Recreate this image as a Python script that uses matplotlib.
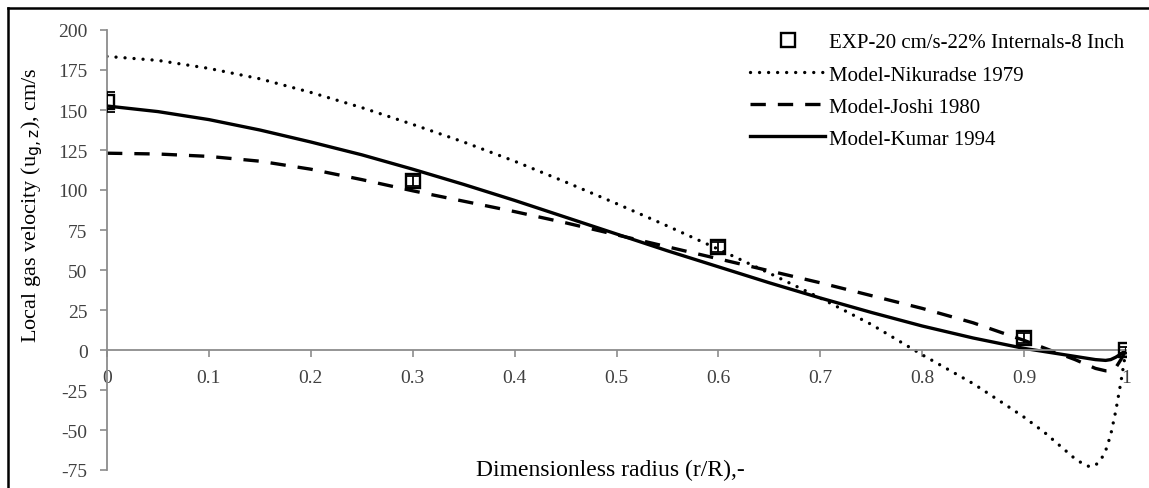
import numpy as np
import matplotlib
matplotlib.use('Agg')
from matplotlib import pyplot as plt
from matplotlib.lines import Line2D
from matplotlib.ticker import FuncFormatter, MultipleLocator

plt.rcParams['font.family'] = ['Liberation Serif', 'DejaVu Serif']
plt.rcParams['axes.unicode_minus'] = False

# experimental points
exp_r = [0.0, 0.3, 0.6, 0.9, 1.0]
exp_u = [155, 105.5, 64.5, 7.5, 0]
exp_err = [6, 3, 3, 3, 2]

# Nikuradse 1979 model
nik_r = [0, 0.05, 0.1, 0.15, 0.2, 0.25, 0.3, 0.35, 0.4, 0.45, 0.5, 0.55, 0.6, 0.65, 0.7,
         0.75, 0.8, 0.85, 0.88, 0.9, 0.92, 0.94, 0.95, 0.96, 0.965, 0.97, 0.975, 0.98,
         0.985, 0.99, 0.995, 1.0]
nik_u = [183.5, 181, 176, 169.5, 161, 151.5, 141, 130, 118, 105, 91.5, 77.5, 63, 48, 32.5,
         16, -3, -21, -33.5, -42, -51.5, -62.5, -68, -72, -73, -72, -69, -63,
         -53, -38, -20, 0]

# Joshi 1980 model
jos_r = [0, 0.05, 0.1, 0.15, 0.2, 0.25, 0.3, 0.35, 0.4, 0.45, 0.5, 0.55, 0.6, 0.65, 0.7,
         0.75, 0.8, 0.85, 0.9, 0.925, 0.95, 0.97, 0.98, 0.985, 0.99, 0.995, 1.0]
jos_u = [123, 122.5, 121, 118, 113, 106.5, 99.5, 93, 86.5, 79.5, 72, 64.5, 57, 49.5, 42,
         34, 26, 17, 6, 0, -6, -11.5, -13, -13, -11, -6, 0]

# Kumar 1994 model
kum_r = [0, 0.05, 0.1, 0.15, 0.2, 0.25, 0.3, 0.35, 0.4, 0.45, 0.5, 0.55, 0.6, 0.65, 0.7,
         0.75, 0.8, 0.85, 0.9, 0.925, 0.95, 0.97, 0.98, 0.985, 0.99, 0.995, 1.0]
kum_u = [152.5, 149, 144, 137.5, 130, 122, 113, 103.5, 93.5, 83, 72.5, 62, 52, 42, 32.5,
         23.5, 15, 7.5, 1, -1.5, -4, -6, -6.5, -6, -4.5, -2.5, 0]

fig = plt.figure(figsize=(11.49, 4.89), dpi=100)
ax = fig.add_axes([107/1149, 18/489, 1019/1149, 440/489])

ax.plot(nik_r, nik_u, color='black', lw=2.4, linestyle=(0, (0.01, 2.7)),
        dash_capstyle='round', label='Model-Nikuradse 1979', zorder=2)
ax.plot(jos_r, jos_u, color='black', lw=2.4, linestyle=(0, (4.6, 3.6)),
        label='Model-Joshi 1980', zorder=2)
ax.plot(kum_r, kum_u, color='black', lw=2.4, label='Model-Kumar 1994', zorder=2)
ax.errorbar(exp_r, exp_u, yerr=exp_err, fmt='none', ecolor='black', elinewidth=1.3,
            capsize=6, capthick=1.3, zorder=3)
ax.plot(exp_r, exp_u, 's', ms=10, mfc='none', mec='black', mew=1.7,
        label='EXP-20 cm/s-22% Internals-8 Inch', zorder=4)

ax.set_xlim(0, 1)
ax.set_ylim(-75, 200)
ax.spines['top'].set_visible(False)
ax.spines['right'].set_visible(False)
ax.spines['bottom'].set_position(('data', 0))
for s in ['left', 'bottom']:
    ax.spines[s].set_color('#8c8c8c')
    ax.spines[s].set_linewidth(1.3)
ax.xaxis.set_major_locator(MultipleLocator(0.1))
ax.yaxis.set_major_locator(MultipleLocator(25))
ax.xaxis.set_major_formatter(FuncFormatter(lambda v, p: f'{v:g}'))
ax.yaxis.set_major_formatter(FuncFormatter(lambda v, p: f'{v:g}'))
ax.tick_params(direction='out', length=5, width=1.2, color='#8c8c8c',
               labelcolor='#404040', labelsize=14)
ax.tick_params(axis='x', pad=9)
ax.tick_params(axis='y', pad=9)
ax.set_ylabel('Local gas velocity (u$_{\\mathrm{g,z}}$), cm/s', fontsize=16)
ax.yaxis.set_label_coords(-0.061, 0.605)
fig.text(610/1149, 1 - 470/489, 'Dimensionless radius (r/R),-', fontsize=17,
         ha='center', va='center')

h, l = ax.get_legend_handles_labels()
order = [3, 0, 1, 2]
ax.legend([h[i] for i in order], [l[i] for i in order], loc='upper right',
          bbox_to_anchor=(1.017, 1.036), frameon=False, fontsize=15, handlelength=3.6,
          labelspacing=0.6, handletextpad=0.2)

# border around the chart (top and left visible)
fig.add_artist(Line2D([8/1149, 8/1149], [0, 1 - 9/489], transform=fig.transFigure,
                      color='black', lw=1.8))
fig.add_artist(Line2D([8/1149, 1], [1 - 9/489, 1 - 9/489], transform=fig.transFigure,
                      color='black', lw=1.8))

fig.savefig('out.png', dpi=100)
